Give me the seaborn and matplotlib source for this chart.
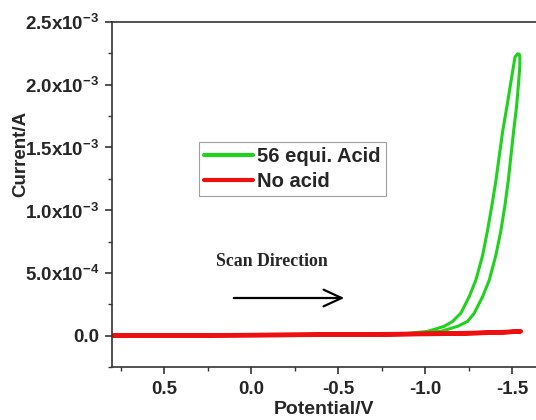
import numpy as np
import pandas as pd
import matplotlib
matplotlib.use('Agg')
import matplotlib.pyplot as plt
from matplotlib.ticker import MultipleLocator, FuncFormatter
import seaborn as sns

# 56 equi. acid: forward scan (outer/right branch), then reverse (left branch)
acid_fwd_v = [0.80, 0.50, 0.20, -0.20, -0.50, -0.80, -0.95, -1.090, -1.186, -1.243, -1.282,
              -1.330, -1.368, -1.406, -1.435, -1.458, -1.477, -1.4925, -1.508, -1.525,
              -1.537, -1.544, -1.544, -1.540]
acid_fwd_i = [0.0, 0.001, 0.002, 0.004, 0.006, 0.010, 0.018, 0.034, 0.074, 0.113, 0.179,
              0.311, 0.442, 0.640, 0.837, 1.035, 1.232, 1.430, 1.627, 1.825,
              2.022, 2.154, 2.220, 2.245]
acid_rev_v = [-1.531, -1.516, -1.4925, -1.4695, -1.445, -1.4255, -1.406, -1.383, -1.358,
              -1.330, -1.291, -1.253, -1.205, -1.157, -1.109, -1.014, -0.90, -0.60,
              -0.30, 0.0, 0.40, 0.80]
acid_rev_i = [2.246, 2.220, 2.022, 1.825, 1.627, 1.430, 1.232, 1.035, 0.837,
              0.640, 0.442, 0.311, 0.179, 0.113, 0.074, 0.034, 0.018, 0.008,
              0.004, 0.002, 0.0, -0.002]

# no acid
noacid_v = [0.80, 0.40, 0.0, -0.40, -0.80, -1.10, -1.30, -1.45, -1.55, -1.45, -1.20, -0.80, -0.30, 0.20, 0.80]
noacid_i = [0.0, 0.002, 0.004, 0.008, 0.012, 0.017, 0.022, 0.028, 0.034, 0.026, 0.016, 0.010, 0.006, 0.003, 0.0]

y_ticks = [0.0, 0.5e-3, 1.0e-3, 1.5e-3, 2.0e-3, 2.5e-3]
x_ticks = [0.5, 0.0, -0.5, -1.0, -1.5]

acid = pd.DataFrame({'v': acid_fwd_v + acid_rev_v,
                     'i': np.array(acid_fwd_i + acid_rev_i) * 1e-3})
noacid = pd.DataFrame({'v': noacid_v, 'i': np.array(noacid_i) * 1e-3})

sns.set_style('ticks')
plt.rcParams['font.family'] = ['Liberation Sans', 'DejaVu Sans']
plt.rcParams['font.weight'] = 'bold'
plt.rcParams['mathtext.fontset'] = 'custom'
plt.rcParams['mathtext.rm'] = 'Liberation Sans:bold'
plt.rcParams['mathtext.bf'] = 'Liberation Sans:bold'

fig = plt.figure(figsize=(5.36, 4.2), dpi=100)
ax = fig.add_axes([112 / 536, 1 - 367 / 420, 424 / 536, 345 / 420])

green = '#1ed21e'
red = '#ee1010'
sns.lineplot(data=acid, x='v', y='i', sort=False, estimator=None, color=green,
             lw=2.2, ax=ax, label='56 equi. Acid')
sns.lineplot(data=noacid, x='v', y='i', sort=False, estimator=None, color=red,
             lw=3.2, ax=ax, label='No acid')

ax.set_xlim(0.8, 0.8 - 424 / 174)
ax.set_ylim(-2.5e-4, 2.5e-3)
ax.set_xticks(x_ticks)
ax.set_yticks(y_ticks)
ax.xaxis.set_minor_locator(MultipleLocator(0.25))
ax.yaxis.set_minor_locator(MultipleLocator(2.5e-4))


def fmt_y(val, pos):
    if abs(val) < 1e-12:
        return '0.0'
    exp = int(np.floor(np.log10(abs(val))))
    mant = val / 10 ** exp
    return r'$%.1f\mathregular{x}10^{%d}$' % (mant, exp)


ax.yaxis.set_major_formatter(FuncFormatter(fmt_y))
ax.xaxis.set_major_formatter(FuncFormatter(lambda v, p: f'{v:.1f}' if abs(v) > 1e-9 else '0.0'))

ax.tick_params(axis='both', which='major', length=5, width=1.2, labelsize=13.5,
               color='#333333', pad=4)
ax.tick_params(axis='x', which='major', pad=5)
ax.tick_params(axis='both', which='minor', length=3, width=1.0, color='#333333')
for s in ['left', 'bottom', 'top']:
    ax.spines[s].set_linewidth(1.2)
    ax.spines[s].set_color('#333333')
ax.spines['right'].set_visible(False)

ax.set_xlabel('Potential/V', fontsize=14, fontweight='bold', labelpad=2)
ax.set_ylabel('Current/A', fontsize=13.5, fontweight='bold')
ax.yaxis.set_label_coords((29 - 112) / 424, (367 - 154) / 345)

leg = ax.legend(loc='upper left', bbox_to_anchor=(87 / 424, (367 - 142) / 345), fontsize=14.5,
                frameon=True, fancybox=False, handlelength=2.45, handletextpad=0.2,
                borderpad=0.25, labelspacing=0.3, borderaxespad=0)
leg.get_frame().set_edgecolor('#888888')
leg.get_frame().set_linewidth(0.8)
for line in leg.get_lines():
    line.set_linewidth(3)

ax.text(-0.12, 0.59e-3, 'Scan Direction', ha='center', va='center', fontsize=12.8,
        fontweight='bold', family=['Liberation Serif', 'DejaVu Serif'])
ax.annotate('', xy=(-0.535, 0.30e-3), xytext=(0.10, 0.30e-3),
            arrowprops=dict(arrowstyle='->,head_length=0.65,head_width=0.3',
                            lw=1.6, color='black', mutation_scale=20,
                            shrinkA=0, shrinkB=0))

fig.savefig('out.png', dpi=100)
